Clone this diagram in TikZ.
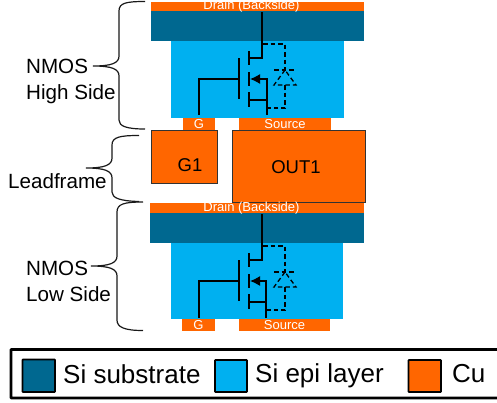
\documentclass[tikz,border=0pt]{standalone}
\usepackage{fontspec}
\setmainfont{Liberation Sans}
\usepackage{xcolor}
\usetikzlibrary{arrows.meta}
\definecolor{siSub}{HTML}{006890}
\definecolor{siEpi}{HTML}{00B0F0}
\definecolor{cuMetal}{HTML}{FF6600}
\tikzset{
  wire/.style = {line width=1.4pt,black},
  diodeWire/.style = {line width=1.3pt,black,dash pattern=on 4.5pt off 3pt},
  curly/.style = {line width=1.2pt,black!90},
  pad/.style = {fill=cuMetal,inner sep=0pt,text=white,font=\fontsize{13}{13}\selectfont},
  frame/.style = {fill=cuMetal,draw=black!80,line width=0.8pt,inner sep=0pt},
  frameText/.style = {inner sep=0pt,font=\fontsize{18.5}{18.5}\selectfont},
  sideLabel/.style = {inner sep=0pt,align=left,font=\fontsize{20.6}{25.5}\selectfont},
  swatch/.style = {draw=black,line width=1.6pt,rounded corners=0.5pt},
  legendText/.style = {inner sep=0pt,anchor=base west,font=\fontsize{26}{26}\selectfont}
}
\begin{document}
\begin{tikzpicture}[x=1pt,y=-1pt]
    \useasboundingbox (0,0) rectangle (497,402);

    % high side die
    \fill[siEpi] (171,41) rectangle (344,118);
    \fill[siSub] (151,11) rectangle (364,41);
    \node[pad,minimum width=213pt,minimum height=9pt](drainHigh) at (257.5,6.5) {};
    \node[pad,minimum width=32pt,minimum height=12pt](gateHigh) at (199,124) {G};
    \node[pad,minimum width=92pt,minimum height=12pt](sourceHigh) at (285,124) {Source};
    \node[inner sep=0pt,text=white,font=\fontsize{13}{13}\selectfont](drainTextHigh) at (251.5,6.5) {Drain (Backside)};

    % leadframe
    \node[frame,minimum width=66pt,minimum height=53pt](leadG) at (184,156.5) {};
    \node[frameText](leadGText) at (190,165) {G1};
    \node[frame,minimum width=133pt,minimum height=72pt](leadOut) at (298.5,166) {};
    \node[frameText](leadOutText) at (296,167) {OUT1};

    % low side die
    \fill[siEpi] (171,243) rectangle (343,319);
    \fill[siSub] (150,213) rectangle (364,243);
    \node[pad,minimum width=214pt,minimum height=10pt](drainLow) at (257,208) {};
    \node[pad,minimum width=33pt,minimum height=12pt](gateLow) at (198.5,325) {G};
    \node[pad,minimum width=91pt,minimum height=12pt](sourceLow) at (284.5,325) {Source};
    \node[inner sep=0pt,text=white,font=\fontsize{13}{13}\selectfont](drainTextLow) at (251.5,208) {Drain (Backside)};

    % transistor, high side
    \begin{scope}[shift = {(0,0)}]
    \draw[wire] (262,12) -- (262,58) -- (249,58);
    \draw[wire] (249,51) -- (249,65);
    \draw[wire] (249,72) -- (249,86);
    \draw[wire] (249,92) -- (249,107);
    \draw[wire] (239,58) -- (239,99);
    \draw[wire] (239,79) -- (199,79) -- (199,115);
    \draw[wire,{Latex[length=10pt,width=10pt]}-] (250,79) -- (267,79) -- (267,115);
    \draw[wire] (249,100) -- (267,100);
    \draw[diodeWire] (263,44) -- (285,44) -- (285,70);
    \draw[diodeWire] (274,70) -- (294,70);
    \draw[diodeWire] (285,70) -- (274,85) -- (296,85) -- cycle;
    \draw[diodeWire] (285,85) -- (285,108) -- (267,108);
    \end{scope}

    % transistor, low side
    \begin{scope}[shift = {(0,202)}]
    \draw[wire] (262,12) -- (262,58) -- (249,58);
    \draw[wire] (249,51) -- (249,65);
    \draw[wire] (249,72) -- (249,86);
    \draw[wire] (249,92) -- (249,107);
    \draw[wire] (239,58) -- (239,99);
    \draw[wire] (239,79) -- (199,79) -- (199,116);
    \draw[wire,{Latex[length=10pt,width=10pt]}-] (250,79) -- (266,79) -- (266,116);
    \draw[wire] (249,100) -- (266,100);
    \draw[diodeWire] (263,44) -- (285,44) -- (285,70);
    \draw[diodeWire] (274,70) -- (294,70);
    \draw[diodeWire] (285,70) -- (274,85) -- (296,85) -- cycle;
    \draw[diodeWire] (285,85) -- (285,108) -- (266,108);
    \end{scope}

    % braces and their labels
    \draw[curly] (145,1.5) .. controls (126,1.5) and (119,3) .. (119,11) -- (119,56) .. controls (119,63) and (112,66) .. (93,66) .. controls (112,66) and (119,69) .. (119,76) -- (119,120) .. controls (119,126) and (126,129) .. (145,129);
    \draw[curly] (139,135.5) .. controls (120,135.5) and (112,137) .. (112,145) -- (112,158) .. controls (112,165) and (105,168) .. (86,168) .. controls (105,168) and (112,171) .. (112,178) -- (112,192) .. controls (112,198) and (120,201) .. (139,201.5);
    \draw[curly] (143,202) .. controls (124,202) and (117,204) .. (117,212) -- (117,256) .. controls (117,263) and (110,266) .. (91,266) .. controls (110,266) and (117,269) .. (117,276) -- (117,320) .. controls (117,327) and (124,330.5) .. (143,330.5);

    \node[sideLabel,anchor=base west](labelHigh) at (26,99) {NMOS\\High Side};
    \node[sideLabel,anchor=base west](labelFrame) at (8,188) {Leadframe};
    \node[sideLabel,anchor=base west](labelLow) at (26,301) {NMOS\\Low Side};

    % legend
    \draw[line width=2.8pt,black,rounded corners=0.5pt] (11,349.5) rectangle (499,398);
    \draw[swatch,fill=siSub] (22.5,359.5) rectangle (55,392);
    \node[legendText](textSub) at (63,383) {Si substrate};
    \draw[swatch,fill=siEpi] (215,360) rectangle (247,392);
    \node[legendText](textEpi) at (255,382) {Si epi layer};
    \draw[swatch,fill=cuMetal] (408.5,360) rectangle (441,392);
    \node[legendText](textCu) at (452,382) {Cu};
    \end{tikzpicture}
\end{document}
